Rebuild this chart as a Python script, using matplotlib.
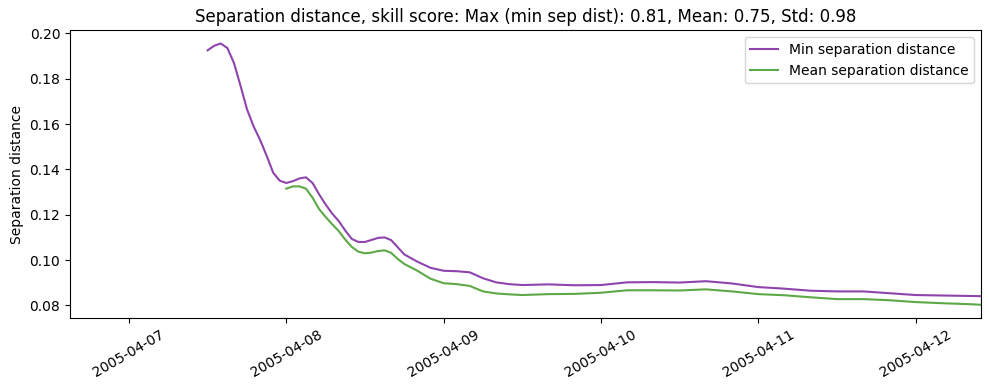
import numpy as np
import pandas as pd
import matplotlib
matplotlib.use('Agg')
import matplotlib.pyplot as plt
import matplotlib.dates as mdates

t0 = pd.Timestamp('2005-04-07 00:00')

# hours after 2005-04-07 00:00
min_hours = [12, 13, 14, 15, 16, 17, 18, 19, 20, 21, 22, 23, 24, 25, 26, 27, 28, 29, 30,
             31, 32, 33, 34, 35, 36, 38, 39, 40, 42, 44, 46, 48, 50, 52, 54, 56, 58, 60,
             64, 68, 72, 76, 80, 84, 88, 92, 96, 100, 104, 108, 112, 116, 120, 124, 128, 130]
min_sep = [0.1925, 0.1945, 0.1955, 0.1935, 0.1870, 0.1770, 0.1665, 0.1590, 0.1530, 0.1460,
           0.1385, 0.1350, 0.1340, 0.1348, 0.1360, 0.1365, 0.1340, 0.1290, 0.1245, 0.1205,
           0.1172, 0.1130, 0.1093, 0.1080, 0.1080, 0.1098, 0.1100, 0.1088, 0.1025, 0.0993,
           0.0966, 0.0953, 0.0951, 0.0946, 0.0920, 0.0902, 0.0894, 0.0890, 0.0893, 0.0889,
           0.0890, 0.0902, 0.0903, 0.0901, 0.0907, 0.0897, 0.0881, 0.0874, 0.0865, 0.0862,
           0.0862, 0.0854, 0.0846, 0.0844, 0.0842, 0.0841]

mean_hours = [24, 25, 26, 27, 28, 29, 30, 31, 32, 33, 34, 35, 36, 37, 38, 39, 40, 41, 42,
              44, 46, 48, 50, 52, 54, 56, 58, 60, 64, 68, 72, 76, 80, 84, 88, 92, 96, 100,
              104, 108, 112, 116, 120, 124, 128, 130]
mean_sep = [0.1315, 0.1325, 0.1325, 0.1315, 0.1275, 0.1225, 0.1190, 0.1158, 0.1128, 0.1090,
            0.1058, 0.1037, 0.1030, 0.1033, 0.1040, 0.1043, 0.1032, 0.1005, 0.0983, 0.0953,
            0.0918, 0.0898, 0.0894, 0.0886, 0.0862, 0.0853, 0.0849, 0.0846, 0.0850, 0.0851,
            0.0856, 0.0867, 0.0867, 0.0866, 0.0871, 0.0862, 0.0850, 0.0845, 0.0836, 0.0828,
            0.0828, 0.0823, 0.0815, 0.0810, 0.0806, 0.0803]

min_t = [t0 + pd.Timedelta(hours=h) for h in min_hours]
mean_t = [t0 + pd.Timedelta(hours=h) for h in mean_hours]

fig, ax = plt.subplots(figsize=(9.89, 3.9), dpi=100)
ax.plot(min_t, min_sep, color='#8e44ad', label='Min separation distance')
ax.plot(mean_t, mean_sep, color='#5da946', label='Mean separation distance')
ax.set_xlim(pd.Timestamp('2005-04-06 15:00'), t0 + pd.Timedelta(hours=130))
ax.xaxis.set_major_locator(mdates.DayLocator())
ax.xaxis.set_major_formatter(mdates.DateFormatter('%Y-%m-%d'))
plt.xticks(rotation=30)
ax.set_ylabel('Separation distance')
ax.set_title('Separation distance, skill score: Max (min sep dist): 0.81, Mean: 0.75, Std: 0.98')
ax.legend(loc='upper right')
plt.subplots_adjust(left=0.0708, right=0.992, top=0.922, bottom=0.185)
plt.savefig('out.png')
